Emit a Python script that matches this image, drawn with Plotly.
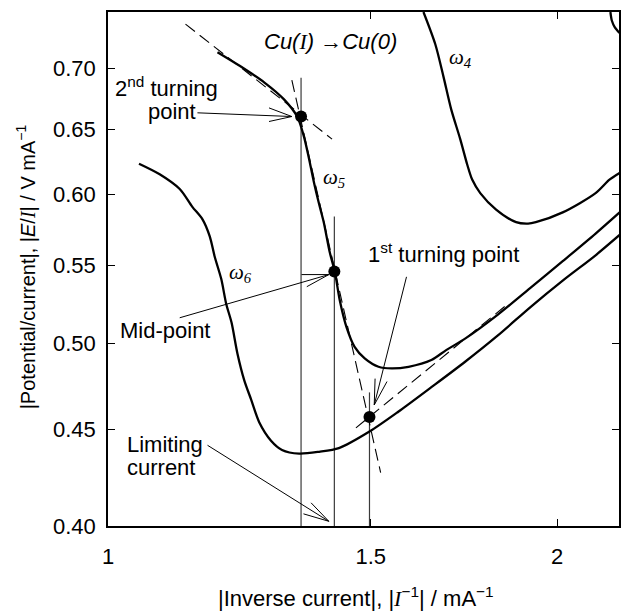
import plotly.graph_objects as go
import numpy as np

# ---- data (x = |I^-1| / mA^-1, y = |E/I| / V mA^-1) ----
w3_x = [2.171, 2.176, 2.186, 2.202]
w3_y = [0.750, 0.742, 0.736, 0.731]

w4_x = [1.627, 1.657, 1.678, 1.698, 1.722, 1.741, 1.754, 1.776, 1.820, 1.877, 1.912, 1.935, 2.017, 2.122, 2.168, 2.202]
w4_y = [0.750, 0.721, 0.693, 0.666, 0.642, 0.622, 0.611, 0.601, 0.589, 0.580, 0.579, 0.580, 0.587, 0.601, 0.611, 0.616]

w5_x = [1.184, 1.226, 1.273, 1.312, 1.339, 1.353, 1.363, 1.374, 1.385, 1.395, 1.408, 1.419, 1.430, 1.445,
        1.463, 1.486, 1.518, 1.549, 1.590, 1.647, 1.685, 1.735, 1.825, 1.918, 2.017, 2.122, 2.202]
w5_y = [0.714, 0.702, 0.688, 0.674, 0.660, 0.644, 0.628, 0.609, 0.593, 0.580, 0.559, 0.546, 0.527, 0.510,
        0.498, 0.491, 0.486, 0.485, 0.486, 0.490, 0.496, 0.503, 0.518, 0.535, 0.553, 0.572, 0.587]

w6_x = [1.049, 1.083, 1.117, 1.139, 1.157, 1.170, 1.179, 1.191, 1.200, 1.210, 1.221, 1.234, 1.247, 1.263,
        1.286, 1.308, 1.343, 1.385, 1.428, 1.497, 1.565, 1.647, 1.735, 1.825, 1.920, 2.017, 2.122, 2.202]
w6_y = [0.623, 0.615, 0.604, 0.591, 0.582, 0.570, 0.556, 0.541, 0.525, 0.513, 0.494, 0.478, 0.467, 0.454,
        0.444, 0.439, 0.437, 0.438, 0.440, 0.449, 0.460, 0.474, 0.489, 0.505, 0.523, 0.540, 0.557, 0.571]

# turning points / mid-point and their vertical guide lines
tp_x = [1.347, 1.418, 1.497]
tp_y = [0.660, 0.546, 0.457]
vline_top = [0.692, 0.584, 0.471]
y_floor = 0.40

# dashed tangents (start, end)
tan_x = [[1.127, 1.413], [1.328, 1.523], [1.466, 1.854]]
tan_y = [[0.739, 0.642], [0.690, 0.427], [0.451, 0.525]]

# annotation arrows: tail, tip, wing A, wing B
arrow_x = [[1.148, 1.328, 1.282, 1.282],
           [1.117, 1.406, 1.348, 1.359],
           [1.166, 1.406, 1.352, 1.368],
           [1.585, 1.508, 1.510, 1.538]]
arrow_y = [[0.663, 0.660, 0.667, 0.656],
           [0.516, 0.544, 0.544, 0.536],
           [0.4415, 0.4023, 0.406, 0.4115],
           [0.5425, 0.4638, 0.479, 0.4773]]

x_ticks = [1, 1.5, 2]
x_ticktext = ['1', '1.5', '2']
y_ticks = [0.40, 0.45, 0.50, 0.55, 0.60, 0.65, 0.70]
y_ticktext = ['0.40', '0.45', '0.50', '0.55', '0.60', '0.65', '0.70']

SANS = 'Liberation Sans, Arial, sans-serif'
SERIF = 'Liberation Serif, Times New Roman, serif'

fig = go.Figure()

def add_line(x, y, width, color='black', dash='solid', shape='linear'):
    fig.add_trace(go.Scatter(x=x, y=y, mode='lines', showlegend=False, hoverinfo='skip',
                             line=dict(width=width, color=color, dash=dash, shape=shape,
                                       smoothing=0.8 if shape == 'spline' else None)))

# vertical guide lines
vx, vy = [], []
for xv, top in zip(tp_x, vline_top):
    vx += [xv, xv, None]
    vy += [top, y_floor, None]
add_line(vx, vy, 1.2, '#3a3a3a')

# dashed tangents
for tx, ty in zip(tan_x, tan_y):
    add_line(tx, ty, 1.1, 'black', dash='12px,6px')

# arrows
ax_, ay_ = [], []
for xs, ys in zip(arrow_x, arrow_y):
    ax_ += [xs[0], xs[1], None, xs[2], xs[1], xs[3], None]
    ay_ += [ys[0], ys[1], None, ys[2], ys[1], ys[3], None]
add_line(ax_, ay_, 1.0, 'black')

# curves
for cx, cy in [(w3_x, w3_y), (w4_x, w4_y), (w5_x, w5_y), (w6_x, w6_y)]:
    add_line(cx, cy, 2.3, 'black', shape='spline')

# points
fig.add_trace(go.Scatter(x=tp_x, y=tp_y, mode='markers', showlegend=False, hoverinfo='skip',
                         marker=dict(size=12, color='black')))

# plot geometry (pixels) for label placement
L, R, T, B = 108, 1, 12, 85
W, H = 622, 611
pw, ph = W - L - R, H - T - B

def label(px, py, text, size=22, family=SANS, xanchor='center', angle=0):
    fig.add_annotation(x=(px - L) / pw, y=(H - B - py) / ph, xref='paper', yref='paper',
                       text=text, showarrow=False, xanchor=xanchor, yanchor='middle',
                       textangle=angle,
                       font=dict(size=size, family=family, color='black'))

I_serif = "<span style='font-family:Liberation Serif'><i>I</i></span>"
label(331, 41, "<i>Cu(</i>" + I_serif + "<i>) →Cu(0)</i>", size=22)
label(167, 87, "2<sup>nd</sup> turning")
label(172, 112, "point")
label(165, 330, "Mid-point")
label(125, 444, "Limiting", xanchor='left')
label(125, 467, "current", xanchor='left')
label(445, 253, "1<sup>st</sup> turning point")
label(462, 58, "<i>ω</i><sub><i>4</i></sub>", size=21, family=SERIF)
label(335, 178, "<i>ω</i><sub><i>5</i></sub>", size=21, family=SERIF)
label(241, 273, "<i>ω</i><sub><i>6</i></sub>", size=21, family=SERIF)

# axis titles
label(357, 597, "|Inverse current|, |" + I_serif + "<sup>−1</sup>| / mA<sup>−1</sup>")
label(25, 267, "|Potential/current|, |<i>E</i>/" + I_serif + "| / V mA<sup>−1</sup>",
      size=20, angle=-90)

axis_common = dict(showline=True, linewidth=1.5, linecolor='black', mirror='ticks',
                   ticks='inside', ticklen=7, tickwidth=1.3, tickcolor='black',
                   showgrid=False, zeroline=False,
                   tickfont=dict(size=22, family=SANS, color='black'))

fig.update_layout(
    width=W, height=H, margin=dict(l=L, r=R, t=T, b=B),
    paper_bgcolor='white', plot_bgcolor='white',
    xaxis=dict(type='log', range=[0, np.log10(2.2)], tickvals=x_ticks, ticktext=x_ticktext,
               ticklabelstandoff=10, **axis_common),
    yaxis=dict(type='log', range=[np.log10(0.4), np.log10(0.75)], tickvals=y_ticks,
               ticktext=y_ticktext, ticklabelstandoff=6, **axis_common),
)

fig.write_html("out.html")
